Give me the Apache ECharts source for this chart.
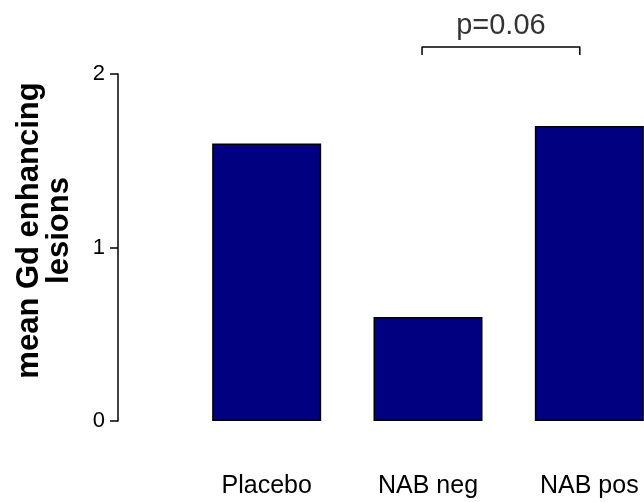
<!DOCTYPE html>
<html>
<head>
<meta charset="utf-8">
<script src="https://cdn.jsdelivr.net/npm/echarts@6/dist/echarts.min.js"></script>
<style>html,body{margin:0;padding:0;background:#fff}#c{width:644px;height:502px}</style>
</head>
<body>
<div id="c"></div>
<script>
const categories = ['Placebo', 'NAB neg', 'NAB pos'];
const meanLesions = [1.6, 0.6, 1.7];
const yTicks = [0, 1, 2];
const bracketX = [0.963, 1.941];   // in category index units
const bracketY = [2.11, 2.156];    // tick bottom, bracket top
const pLabel = 'p=0.06';
const pLabelY = 2.275;

const chart = echarts.init(document.getElementById('c'), null, {renderer: 'canvas'});
const FONT = 'Liberation Sans, Arial, sans-serif';
chart.setOption({
  animation: false,
  backgroundColor: '#fff',
  grid: {left: 186, top: 74, right: -26, bottom: 81, containLabel: false, outerBoundsMode: 'none'},
  xAxis: [{
    type: 'category', data: categories,
    axisLine: {show: false}, axisTick: {show: false},
    axisLabel: {color: '#000', fontFamily: FONT, fontSize: 25, margin: 53}
  }, {
    type: 'value', min: -0.5, max: 2.5, show: false
  }],
  yAxis: {
    type: 'value', min: yTicks[0], max: yTicks[yTicks.length - 1], interval: 1,
    offset: 68,
    name: 'mean Gd enhancing\nlesions', nameLocation: 'middle', nameRotate: 90, nameGap: 44,
    nameTextStyle: {color: '#000', fontFamily: FONT, fontSize: 31, fontWeight: 'bold', lineHeight: 30, align: 'center', padding: [0, 0, 0, 34]},
    axisLine: {show: true, onZero: false, lineStyle: {color: '#000', width: 1.5}},
    axisTick: {show: true, length: 8, lineStyle: {color: '#000', width: 1.5}},
    axisLabel: {color: '#000', fontFamily: FONT, fontSize: 22, margin: 13},
    splitLine: {show: false}
  },
  series: [{
    type: 'bar', data: meanLesions, barWidth: 109, xAxisIndex: 0,
    itemStyle: {color: '#000080', borderColor: '#000', borderWidth: 1.5}
  }, {
    type: 'line', xAxisIndex: 1, clip: false, symbol: 'none',
    lineStyle: {color: '#000', width: 1.5},
    data: [[bracketX[0], bracketY[0]], [bracketX[0], bracketY[1]], [bracketX[1], bracketY[1]], [bracketX[1], bracketY[0]]]
  }, {
    type: 'scatter', xAxisIndex: 1, clip: false, symbolSize: 0,
    data: [[(bracketX[0] + bracketX[1]) / 2, pLabelY]],
    label: {show: true, position: 'inside', formatter: pLabel, color: '#000', fontFamily: FONT, fontSize: 29}
  }]
});
</script>
</body>
</html>
